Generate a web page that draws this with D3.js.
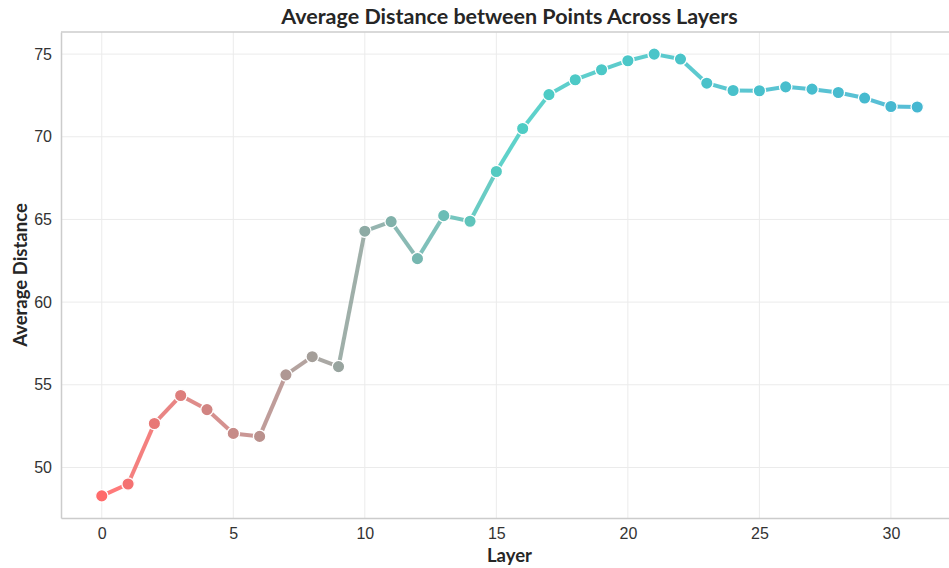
<!DOCTYPE html>
<html>
<head>
<meta charset="utf-8">
<script src="https://cdn.jsdelivr.net/npm/d3@7"></script>
<style>
  html, body { margin: 0; padding: 0; background: #fff; }
  svg { display: block; }
</style>
</head>
<body>
<svg id="chart" width="949" height="568"></svg>
<script>
const layers = d3.range(0, 32);
const avgDistance = [
  48.28, 49.0, 52.66, 54.35, 53.5, 52.06, 51.88, 55.6, 56.7, 56.1,
  64.29, 64.87, 62.63, 65.23, 64.89, 67.9, 70.5, 72.55, 73.45, 74.05,
  74.6, 75.0, 74.7, 73.24, 72.8, 72.78, 73.02, 72.88, 72.68, 72.34,
  71.83, 71.8
];
const xTicks = [0, 5, 10, 15, 20, 25, 30];
const yTicks = [50, 55, 60, 65, 70, 75];
const paletteStops = ["#FF6B6B", "#4ECDC4", "#45B7D1"];
const titleText = "Average Distance between Points Across Layers";
const xLabelText = "Layer";
const yLabelText = "Average Distance";

const svg = d3.select("#chart");
const margin = { left: 61, top: 32, right: 958, bottom: 518 };

const n = layers.length;
const xPad = (d3.max(layers) - d3.min(layers)) * 0.05;
const x = d3.scaleLinear()
  .domain([d3.min(layers) - xPad, d3.max(layers) + xPad])
  .range([margin.left, margin.right]);
const yMin = d3.min(avgDistance), yMax = d3.max(avgDistance);
const yPad = (yMax - yMin) * 0.05;
const y = d3.scaleLinear()
  .domain([yMin - yPad, yMax + yPad])
  .range([margin.bottom, margin.top]);

const colorAt = d3.piecewise(d3.interpolateRgb, paletteStops);

// grid
const grid = svg.append("g");
grid.selectAll("line.gx").data(xTicks).join("line")
  .attr("x1", d => x(d)).attr("x2", d => x(d))
  .attr("y1", margin.top).attr("y2", margin.bottom)
  .attr("stroke", "#ebebeb").attr("stroke-width", 1);
grid.selectAll("line.gy").data(yTicks).join("line")
  .attr("x1", margin.left).attr("x2", margin.right)
  .attr("y1", d => y(d)).attr("y2", d => y(d))
  .attr("stroke", "#ebebeb").attr("stroke-width", 1);

// axes
const xAxis = svg.append("g")
  .attr("transform", `translate(0,${margin.bottom})`)
  .call(d3.axisBottom(x).tickValues(xTicks).tickSize(0).tickPadding(10).tickFormat(d3.format("d")));
const yAxis = svg.append("g")
  .attr("transform", `translate(${margin.left},0)`)
  .call(d3.axisLeft(y).tickValues(yTicks).tickSize(0).tickPadding(9).tickFormat(d3.format("d")));
[xAxis, yAxis].forEach(a => {
  a.attr("font-family", null).attr("font-size", null);
  a.select(".domain").attr("stroke", "#cccccc").attr("stroke-width", 1.5);
  a.selectAll("text")
    .style("font-family", "'Liberation Sans', Arial, sans-serif")
    .style("font-size", "16px").attr("fill", "#333");
});
// top spine
svg.append("line")
  .attr("x1", margin.left).attr("x2", margin.right)
  .attr("y1", margin.top).attr("y2", margin.top)
  .attr("stroke", "#cccccc").attr("stroke-width", 1.5);

// segments
const segs = d3.range(n - 1).map(i => ({ i }));
svg.append("g").selectAll("line").data(segs).join("line")
  .attr("x1", d => x(layers[d.i])).attr("y1", d => y(avgDistance[d.i]))
  .attr("x2", d => x(layers[d.i + 1])).attr("y2", d => y(avgDistance[d.i + 1]))
  .attr("stroke", d => colorAt(d.i / (n - 2)))
  .attr("stroke-width", 4).attr("stroke-opacity", 0.9)
  .attr("stroke-linecap", "butt");

// points
svg.append("g").selectAll("circle").data(layers).join("circle")
  .attr("cx", d => x(d)).attr("cy", (d, i) => y(avgDistance[i]))
  .attr("r", 6.2)
  .attr("fill", (d, i) => colorAt(i / (n - 1)))
  .attr("stroke", "#fff").attr("stroke-width", 1.3);

// title & labels
const labelFont = "Lato, 'Open Sans', sans-serif";
svg.append("text")
  .attr("x", (margin.left + margin.right) / 2).attr("y", 24)
  .attr("text-anchor", "middle")
  .style("font-family", labelFont)
  .attr("font-weight", "bold").style("font-size", "21.5px").attr("fill", "#262626")
  .text(titleText);
svg.append("text")
  .attr("x", (margin.left + margin.right) / 2).attr("y", 562)
  .attr("text-anchor", "middle")
  .style("font-family", labelFont)
  .attr("font-weight", "bold").style("font-size", "18.5px").attr("fill", "#262626")
  .text(xLabelText);
svg.append("text")
  .attr("transform", `translate(27,${(margin.top + margin.bottom) / 2}) rotate(-90)`)
  .attr("text-anchor", "middle")
  .style("font-family", labelFont)
  .attr("font-weight", "bold").style("font-size", "18.5px").attr("fill", "#262626")
  .text(yLabelText);
</script>
</body>
</html>
